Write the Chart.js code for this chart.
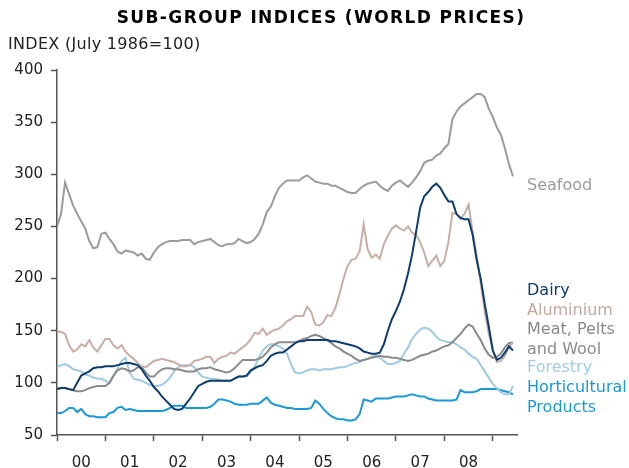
<!DOCTYPE html>
<html>
<head>
<meta charset="utf-8">
<title>Sub-group indices</title>
<script src="https://cdn.jsdelivr.net/npm/chart.js@4.4.0/dist/chart.umd.min.js"></script>
<style>
  html, body { margin: 0; padding: 0; background: #fff; }
  #wrap { position: relative; width: 629px; height: 468px; }
</style>
</head>
<body>
<div id="wrap"><canvas id="chart" width="629" height="468"></canvas></div>
<script>
// monthly index values, Jan 2000 .. Jun 2009 (July 1986 = 100)
const yearLabels = ['00', '01', '02', '03', '04', '05', '06', '07', '08'];
const yTicks = [50, 100, 150, 200, 250, 300, 350, 400];

const seafood = [250, 262, 292, 281, 270, 262, 255, 248, 236, 229, 230, 243, 244, 238, 233, 226, 224, 227, 226, 225,
  222, 224, 219, 218, 225, 230, 233, 235, 236, 236, 236, 237, 237, 237, 233, 235, 236, 237, 238, 235,
  232, 231, 233, 233, 234, 238, 236, 234, 235, 238, 243, 252, 264, 269, 279, 287, 291, 294, 294, 294,
  294, 297, 299, 296, 293, 292, 291, 291, 289, 289, 287, 285, 283, 282, 282, 286, 289, 291, 292, 293,
  289, 286, 284, 289, 292, 294, 291, 288, 292, 297, 303, 311, 313, 314, 318, 320, 325, 329, 353, 360,
  365, 368, 371, 374, 377, 377, 374, 363, 355, 345, 338, 325, 310, 298];

const dairy = [94, 95, 95, 94, 93, 100, 107, 109, 111, 114, 115, 115, 116, 116, 116, 117, 118, 119, 119, 118,
  117, 113, 107, 102, 96, 92, 87, 83, 79, 75, 74, 75, 80, 85, 91, 97, 99, 101, 102, 102,
  102, 102, 102, 102, 104, 106, 106, 107, 112, 114, 116, 117, 121, 126, 128, 129, 129, 132, 135, 138,
  140, 140, 141, 141, 141, 141, 141, 141, 140, 140, 139, 138, 137, 136, 135, 133, 130, 129, 128, 128,
  129, 137, 150, 161, 169, 178, 190, 205, 223, 245, 268, 279, 283, 288, 291, 287, 280, 274, 274, 262,
  258, 257, 257, 242, 218, 200, 176, 154, 131, 122, 124, 129, 135, 131];

const aluminium = [149, 149, 147, 136, 130, 132, 137, 135, 141, 134, 130, 136, 142, 142, 136, 133, 136, 130, 126, 123,
  119, 116, 115, 118, 121, 122, 123, 122, 121, 120, 118, 116, 116, 117, 121, 122, 123, 125, 125, 119,
  123, 125, 126, 129, 128, 131, 134, 137, 142, 148, 147, 152, 146, 149, 151, 152, 155, 159, 161, 164,
  164, 164, 173, 168, 156, 155, 158, 165, 164, 172, 185, 200, 212, 218, 219, 226, 252, 228, 220, 223,
  219, 233, 241, 248, 251, 248, 246, 250, 244, 242, 235, 225, 212, 217, 222, 212, 217, 235, 263, 262,
  258, 262, 271, 245, 222, 196, 168, 147, 132, 120, 121, 126, 134, 139];

const meat = [94, 95, 95, 94, 93, 92, 92, 93, 95, 96, 97, 97, 97, 100, 107, 112, 114, 113, 111, 112,
  115, 115, 110, 106, 106, 110, 113, 114, 114, 113, 113, 112, 111, 111, 111, 113, 114, 114, 115, 113,
  112, 111, 110, 111, 114, 118, 122, 122, 122, 122, 123, 125, 129, 134, 137, 139, 139, 139, 139, 139,
  140, 142, 143, 145, 146, 145, 143, 141, 138, 135, 133, 130, 128, 126, 123, 121, 122, 123, 124, 125,
  126, 125, 125, 124, 124, 123, 122, 121, 122, 124, 126, 127, 128, 130, 131, 133, 135, 136, 139, 143,
  147, 152, 156, 154, 147, 141, 133, 127, 124, 125, 128, 134, 138, 139];

const forestry = [115, 117, 118, 116, 113, 112, 111, 108, 107, 105, 104, 104, 102, 100, 106, 114, 121, 124, 110, 104,
  103, 102, 100, 98, 97, 97, 98, 101, 105, 111, 115, 117, 117, 117, 115, 110, 106, 105, 104, 104,
  103, 102, 102, 102, 104, 106, 106, 106, 110, 115, 124, 131, 135, 137, 137, 135, 133, 128, 118, 110,
  109, 110, 112, 113, 113, 112, 113, 113, 113, 114, 115, 115, 116, 118, 119, 120, 122, 123, 125, 126,
  124, 121, 118, 118, 119, 121, 128, 134, 142, 147, 151, 153, 152, 149, 144, 141, 140, 139, 139, 137,
  134, 132, 128, 125, 123, 117, 111, 105, 99, 95, 91, 89, 89, 97];

const horticultural = [71, 71, 73, 76, 76, 72, 75, 70, 68, 68, 67, 67, 67, 71, 72, 76, 77, 74, 75, 74,
  73, 73, 73, 73, 73, 73, 73, 74, 76, 78, 78, 78, 76, 76, 76, 76, 76, 76, 77, 80,
  84, 84, 83, 82, 80, 79, 79, 79, 80, 80, 80, 83, 86, 81, 79, 78, 77, 76, 76, 75,
  75, 75, 75, 76, 83, 80, 75, 71, 68, 66, 65, 65, 64, 64, 65, 70, 84, 83, 82, 85,
  85, 85, 85, 86, 87, 87, 87, 88, 89, 88, 87, 87, 85, 84, 83, 83, 83, 83, 83, 84,
  93, 91, 91, 91, 92, 94, 94, 94, 94, 94, 93, 92, 91, 89];

const seriesNames = ['Seafood', 'Dairy', 'Aluminium', 'Meat, Pelts and Wool', 'Forestry', 'Horticultural Products'];
const seriesData = [seafood, dairy, aluminium, meat, forestry, horticultural];
const lineColors = ['#9b9b9b', '#0c3d6e', '#c9aea3', '#8a8a8a', '#9fcae2', '#1b99d6'];

// end labels on the right: text lines and their vertical centres
const endLabels = [
  { lines: ['Seafood'], y: [186], color: '#9b9b9b' },
  { lines: ['Dairy'], y: [291], color: '#0c3d6e' },
  { lines: ['Aluminium'], y: [311], color: '#c4a89c' },
  { lines: ['Meat, Pelts', 'and Wool'], y: [330, 350], color: '#8a8a8a' },
  { lines: ['Forestry'], y: [368], color: '#a0cbe3' },
  { lines: ['Horticultural', 'Products'], y: [388, 408], color: '#1b99d6' }
];

const FONT = '"DejaVu Sans", Verdana, sans-serif';
const AXIS = '#555555';

const textPlugin = {
  id: 'texts',
  afterDraw(chart) {
    const ctx = chart.ctx;
    ctx.save();
    ctx.textBaseline = 'middle';
    ctx.fillStyle = '#000';
    ctx.font = 'bold 17px ' + FONT;
    ctx.letterSpacing = '1.4px';
    ctx.textAlign = 'center';
    ctx.fillText('SUB-GROUP INDICES (WORLD PRICES)', 321, 19);
    ctx.font = '16px ' + FONT;
    ctx.letterSpacing = '0.3px';
    ctx.textAlign = 'left';
    ctx.fillStyle = '#222';
    ctx.fillText('INDEX (July 1986=100)', 8, 45);
    ctx.letterSpacing = '0px';
    const x = chart.chartArea.right + 10;
    endLabels.forEach(l => {
      ctx.fillStyle = l.color;
      l.lines.forEach((t, i) => ctx.fillText(t, x, l.y[i]));
    });
    ctx.restore();
  }
};

new Chart(document.getElementById('chart'), {
  type: 'line',
  data: {
    datasets: seriesData.map((arr, i) => ({
      label: seriesNames[i],
      data: arr.map((v, m) => ({ x: m, y: v })),
      borderColor: lineColors[i],
      borderWidth: 2,
      pointRadius: 0,
      tension: 0,
      fill: false
    }))
  },
  options: {
    responsive: false,
    animation: false,
    layout: { padding: { left: 0, right: 112, top: 70, bottom: 0 } },
    plugins: { legend: { display: false }, tooltip: { enabled: false } },
    scales: {
      x: {
        type: 'linear',
        min: 0,
        max: 114,
        afterBuildTicks(scale) {
          const t = [];
          for (let v = 0; v <= 108; v += 6) t.push({ value: v });
          scale.ticks = t;
        },
        afterFit(scale) { scale.height = 33; },
        border: { display: true, color: AXIS, width: 1.5 },
        grid: {
          drawOnChartArea: false,
          drawTicks: true,
          tickLength: 6,
          tickWidth: 1.5,
          tickColor: c => (c.tick && c.tick.value % 12 === 0) ? AXIS : 'rgba(0,0,0,0)'
        },
        ticks: {
          autoSkip: false,
          maxRotation: 0,
          padding: 13,
          color: '#222',
          font: { family: FONT, size: 15 },
          callback: v => (v % 12 === 6) ? yearLabels[(v - 6) / 12] : ''
        }
      },
      y: {
        min: 50,
        max: 400,
        afterBuildTicks(scale) { scale.ticks = yTicks.map(v => ({ value: v })); },
        afterFit(scale) { scale.width = 57; },
        border: { display: true, color: AXIS, width: 1.5 },
        grid: { drawOnChartArea: false, drawTicks: true, tickLength: 6, tickWidth: 1.5, tickColor: AXIS },
        ticks: { padding: 8, color: '#222', font: { family: FONT, size: 15 } }
      }
    }
  },
  plugins: [textPlugin]
});
</script>
</body>
</html>
